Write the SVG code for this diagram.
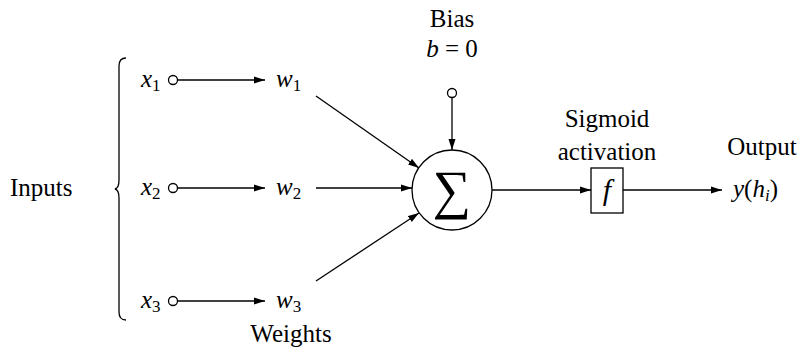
<svg xmlns="http://www.w3.org/2000/svg" width="807" height="360" viewBox="0 0 807 360" font-family="'Liberation Serif', 'DejaVu Serif', 'Times New Roman', Times, serif">
<style>
text{font-family:'Liberation Serif','DejaVu Serif',Times,serif;font-size:25px;fill:#000}
.m{font-style:italic}
.s{font-size:17px;font-style:normal}
.si{font-size:17px;font-style:italic}
.ln{stroke:#000;stroke-width:1.3;fill:none}
.dot{stroke:#000;stroke-width:1.3;fill:#fff}
</style>
<defs>
<marker id="ah" markerWidth="12" markerHeight="8" refX="11" refY="4" orient="auto" markerUnits="userSpaceOnUse">
<path d="M0,0.5 L11,4 L0,7.5 Z" fill="#000"/>
</marker>
</defs>
<rect width="807" height="360" fill="#fff"/>
<g id="connectors">
<line class="ln" x1="178" y1="80" x2="265" y2="80" marker-end="url(#ah)"/>
<line class="ln" x1="178" y1="188" x2="265" y2="188" marker-end="url(#ah)"/>
<line class="ln" x1="178" y1="301" x2="265" y2="301" marker-end="url(#ah)"/>
<line class="ln" x1="316" y1="96" x2="419" y2="168" marker-end="url(#ah)"/>
<line class="ln" x1="316" y1="188" x2="412" y2="188" marker-end="url(#ah)"/>
<line class="ln" x1="316" y1="281" x2="419" y2="213" marker-end="url(#ah)"/>
<line class="ln" x1="452" y1="98" x2="452" y2="150" marker-end="url(#ah)"/>
<line class="ln" x1="492" y1="190" x2="591" y2="190" marker-end="url(#ah)"/>
<line class="ln" x1="623" y1="190" x2="722" y2="190" marker-end="url(#ah)"/>
</g>
<g id="inputs">
<text x="10" y="196">Inputs</text>
<path class="ln" d="M126,58 Q119,58 119,66 L119,180 Q119,188 115,189 Q119,190 119,198 L119,312 Q119,320 126,320" stroke-width="1.1"/>
</g>
<g id="x1"><text x="141" y="87" class="m">x<tspan class="s" dy="4">1</tspan></text><circle class="dot" cx="173" cy="80" r="4.5"/></g>
<g id="x2"><text x="141" y="195" class="m">x<tspan class="s" dy="4">2</tspan></text><circle class="dot" cx="173" cy="188" r="4.5"/></g>
<g id="x3"><text x="141" y="308" class="m">x<tspan class="s" dy="4">3</tspan></text><circle class="dot" cx="173" cy="301" r="4.5"/></g>
<g id="w1"><text x="276" y="87" class="m">w<tspan class="s" dy="4">1</tspan></text></g>
<g id="w2"><text x="276" y="195" class="m">w<tspan class="s" dy="4">2</tspan></text></g>
<g id="w3"><text x="276" y="308" class="m">w<tspan class="s" dy="4">3</tspan></text></g>
<g id="weights"><text x="291" y="342" text-anchor="middle">Weights</text></g>
<g id="bias">
<text x="452" y="27" text-anchor="middle">Bias</text>
<text x="452" y="57" text-anchor="middle"><tspan class="m">b</tspan> = 0</text>
<circle class="dot" cx="452" cy="93" r="4.5"/>
</g>
<g id="sum">
<circle cx="452" cy="190" r="40" fill="#fff" stroke="#000" stroke-width="1.3"/>
<text x="452" y="208" text-anchor="middle" style="font-size:54px">∑</text>
</g>
<g id="activation">
<text x="607" y="127" text-anchor="middle">Sigmoid</text>
<text x="607" y="160" text-anchor="middle">activation</text>
<rect x="591" y="168" width="32" height="45" fill="#fff" stroke="#000" stroke-width="1.3"/>
<text x="607" y="200" text-anchor="middle" class="m" style="font-size:30px">f</text>
</g>
<g id="output">
<text x="762" y="155" text-anchor="middle">Output</text>
<text x="733" y="197" class="m">y<tspan style="font-style:normal">(</tspan>h<tspan class="si" dy="4">i</tspan><tspan style="font-style:normal" dy="-4">)</tspan></text>
</g>
</svg>
